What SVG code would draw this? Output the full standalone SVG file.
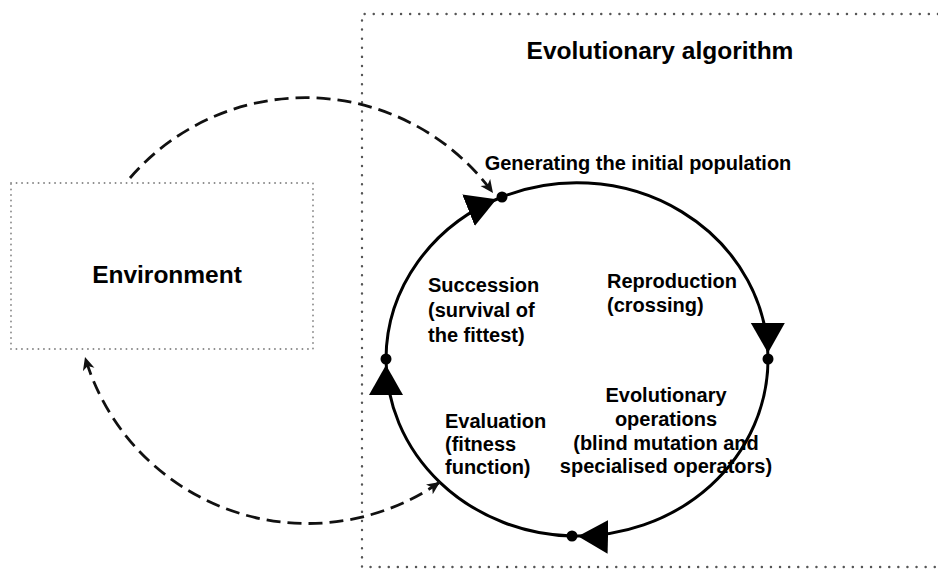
<svg xmlns="http://www.w3.org/2000/svg" width="938" height="573" viewBox="0 0 938 573">
<style>
text{font-family:"Liberation Sans",Arial,"Helvetica",sans-serif;font-weight:bold;fill:#000;}
.lbl{font-size:20px;}
.big{font-size:24.5px;}
.frame{fill:none;stroke:#555;stroke-width:2.4;stroke-dasharray:0.1 9;stroke-linecap:round;}
.envbox{fill:none;stroke:#888;stroke-width:1.8;stroke-dasharray:0.1 5.4;stroke-linecap:round;}
.cycle{fill:none;stroke:#000;stroke-width:3;marker-end:url(#tri);}
.dash{fill:none;stroke:#111;stroke-width:2.8;stroke-dasharray:14 7;}
.dot{fill:#000;}
</style>
<defs>
<marker id="tri" markerUnits="userSpaceOnUse" markerWidth="40" markerHeight="40" refX="36" refY="17" orient="auto">
<path d="M0,0 L30,17 L0,34 z" fill="#000"/>
</marker>
<marker id="small" markerUnits="userSpaceOnUse" markerWidth="16" markerHeight="14" refX="13" refY="6" orient="auto-start-reverse">
<path d="M0,0 L13,6 L0,12 L3.5,6 z" fill="#111"/>
</marker>
</defs>
<g id="frame">
<path class="frame" d="M938,14 H362 V567 H938"/>
<text class="big" x="660" y="59" text-anchor="middle">Evolutionary algorithm</text>
</g>
<g id="environment">
<rect class="envbox" x="11" y="183" width="302" height="166"/>
<text class="big" x="167" y="283" text-anchor="middle">Environment</text>
</g>
<g id="connectors">
<path class="cycle" d="M502,197 A191,177 0 0 1 768,359"/>
<path class="cycle" d="M768,359 A191,177 0 0 1 572,536"/>
<path class="cycle" d="M572,536 A191,177 0 0 1 386,359"/>
<path class="cycle" d="M386,359 A191,177 0 0 1 502,197"/>
<path class="dash" d="M130,178 A232,232 0 0 1 493,193" marker-end="url(#small)"/>
<path class="dash" d="M440,482 A232,232 0 0 1 85,357" marker-start="url(#small)" marker-end="url(#small)"/>
</g>
<g id="points">
<circle class="dot" cx="502" cy="197" r="5.5"/>
<circle class="dot" cx="768" cy="359" r="5.5"/>
<circle class="dot" cx="572" cy="536" r="5.5"/>
<circle class="dot" cx="386" cy="359" r="5.5"/>
</g>
<g id="initial-population">
<text class="lbl" x="638" y="170" text-anchor="middle">Generating the initial population</text>
</g>
<g id="reproduction">
<text class="lbl" x="607" y="288">Reproduction</text>
<text class="lbl" x="607" y="312">(crossing)</text>
</g>
<g id="evolutionary-operations">
<text class="lbl" x="666" y="402" text-anchor="middle">Evolutionary</text>
<text class="lbl" x="666" y="426" text-anchor="middle">operations</text>
<text class="lbl" x="666" y="450" text-anchor="middle">(blind mutation and</text>
<text class="lbl" x="666" y="473" text-anchor="middle">specialised operators)</text>
</g>
<g id="evaluation">
<text class="lbl" x="445" y="428">Evaluation</text>
<text class="lbl" x="445" y="451">(fitness</text>
<text class="lbl" x="445" y="474">function)</text>
</g>
<g id="succession">
<text class="lbl" x="428" y="292">Succession</text>
<text class="lbl" x="428" y="317">(survival of</text>
<text class="lbl" x="428" y="342">the fittest)</text>
</g>
</svg>
